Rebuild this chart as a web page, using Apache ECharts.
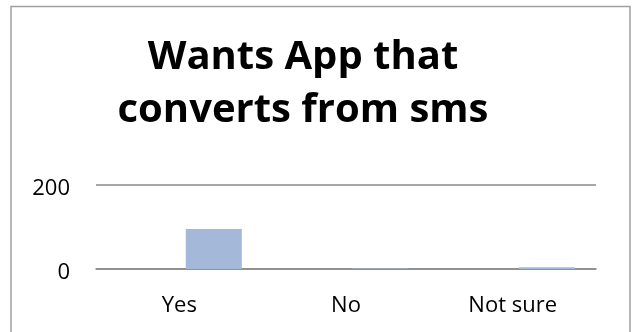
<!DOCTYPE html>
<html>
<head>
<meta charset="utf-8">
<script src="https://cdn.jsdelivr.net/npm/echarts@6/dist/echarts.min.js"></script>
<style>html,body{margin:0;padding:0;background:#fff}#c{width:632px;height:332px}</style>
</head>
<body>
<div id="c"></div>
<script>
const titleText = 'Wants App that\nconverts from sms';
const categories = ['Yes', 'No', 'Not sure'];
const series1Values = [null, null, null];
const series2Values = [95, 1, 4];
const yTicks = [0, 200];

const chart = echarts.init(document.getElementById('c'), null, {renderer: 'canvas'});
chart.setOption({
  animation: false,
  backgroundColor: '#fff',
  title: {
    text: titleText,
    left: 298,
    top: 26,
    textAlign: 'center',
    textStyle: {fontFamily: 'Open Sans', fontWeight: 'bold', fontSize: 40, lineHeight: 53, color: '#000'}
  },
  graphic: [{
    type: 'rect', silent: true,
    shape: {x: 11, y: 6.5, width: 619, height: 400},
    style: {fill: 'none', stroke: '#a0a0a0', lineWidth: 1.5}
  }],
  grid: {left: 96, right: 36, top: 185, bottom: 63, containLabel: false},
  xAxis: {
    type: 'category',
    data: categories,
    axisLine: {show: true, lineStyle: {color: '#8a8a8a', width: 1.5}},
    axisTick: {show: false},
    axisLabel: {fontFamily: 'Open Sans', fontSize: 22, color: '#000', margin: 26}
  },
  yAxis: {
    type: 'value',
    min: yTicks[0], max: yTicks[yTicks.length - 1], interval: 200,
    axisLine: {show: false},
    axisTick: {show: false},
    splitLine: {lineStyle: {color: '#8a8a8a', width: 1.5}},
    axisLabel: {fontFamily: 'Open Sans', fontSize: 22, color: '#000', margin: 26, verticalAlign: 'top', lineHeight: 8}
  },
  series: [
    {type: 'bar', name: 'Series 1', data: series1Values, barWidth: 56, barGap: '23%', itemStyle: {color: '#4f81bd'}},
    {type: 'bar', name: 'Series 2', data: series2Values, barWidth: 56, barGap: '23%', itemStyle: {color: '#a4b8da'}}
  ]
});
</script>
</body>
</html>
